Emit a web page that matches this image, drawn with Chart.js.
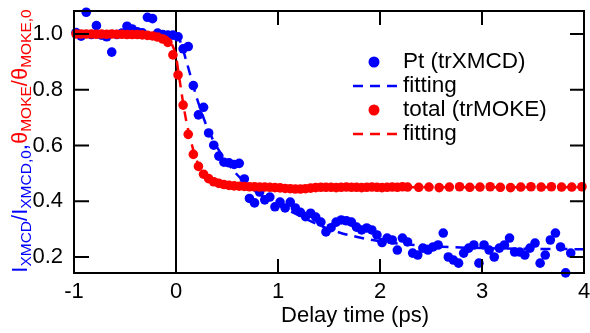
<!DOCTYPE html>
<html><head><meta charset="utf-8">
<script src="https://cdn.jsdelivr.net/npm/chart.js@4"></script>
<style>html,body{margin:0;padding:0;background:#fff;}#wrap{width:590px;height:333px;}</style>
</head><body><div id="wrap"><canvas id="c" width="590" height="333"></canvas></div>
<script>
const xTicks = [-1, 0, 1, 2, 3, 4];
const xTickLabels = ['-1', '0', '1', '2', '3', '4'];
const yTicks = [0.2, 0.4, 0.6, 0.8, 1.0];
const yTickLabels = ['0.2', '0.4', '0.6', '0.8', '1.0'];
const xTitle = 'Delay time (ps)';

// Pt (trXMCD) points
const ptTime = [-0.98,-0.93,-0.88,-0.83,-0.78,-0.73,-0.68,-0.63,-0.58,-0.53,-0.48,-0.43,-0.38,-0.33,-0.28,-0.23,-0.18,-0.13,-0.08,-0.03,
  0.02,0.07,0.12,0.17,0.22,0.27,0.32,0.37,0.42,0.47,0.52,0.57,0.62,0.67,0.72,0.77,0.82,0.87,0.92,0.97,
  1.02,1.07,1.12,1.17,1.22,1.27,1.32,1.37,1.42,1.47,1.52,1.57,1.62,1.67,1.72,1.77,1.82,1.87,1.92,1.97,
  2.02,2.07,2.12,2.17,2.22,2.27,2.32,2.37,2.42,2.47,2.52,2.57,2.62,2.67,2.72,2.77,2.82,2.87,2.92,2.97,
  3.02,3.07,3.12,3.17,3.22,3.27,3.32,3.37,3.42,3.47,3.52,3.57,3.62,3.67,3.72,3.77,3.82,3.87];
const ptValue = [1.005,0.992,1.078,0.998,1.03,0.996,0.99,0.935,0.998,1.003,1.028,1.018,1.008,1.004,1.06,1.055,1.003,0.998,0.996,0.996,
  0.99,0.947,0.955,0.815,0.71,0.737,0.645,0.601,0.562,0.54,0.538,0.532,0.536,0.48,0.41,0.394,0.433,0.405,0.415,0.38,
  0.397,0.376,0.397,0.376,0.36,0.345,0.357,0.343,0.325,0.29,0.305,0.325,0.333,0.33,0.325,0.307,0.297,0.304,0.297,0.279,
  0.252,0.268,0.261,0.225,0.268,0.254,0.214,0.207,0.232,0.225,0.236,0.243,0.286,0.2,0.189,0.178,0.214,0.232,0.243,0.178,
  0.243,0.225,0.2,0.232,0.243,0.268,0.218,0.218,0.207,0.232,0.25,0.178,0.207,0.261,0.286,0.236,0.143,0.214];

// Pt fitting curve
const ptFitTime = [-1.0,-0.5,0.0,0.05,0.1,0.15,0.2,0.25,0.3,0.35,0.4,0.5,0.6,0.7,0.8,0.9,1.0,1.2,1.4,1.6,1.8,2.0,2.3,2.6,3.0,3.5,4.0];
const ptFitValue = [1.0,1.0,1.0,0.965,0.905,0.84,0.775,0.72,0.67,0.63,0.595,0.54,0.495,0.46,0.43,0.405,0.385,0.35,0.315,0.288,0.27,0.256,0.244,0.237,0.232,0.229,0.228];

// total (trMOKE) points
const totTime = [-0.98,-0.93,-0.88,-0.83,-0.78,-0.73,-0.68,-0.63,-0.58,-0.53,-0.48,-0.43,-0.38,-0.33,-0.28,-0.23,-0.18,-0.13,-0.08,-0.03,
  0.02,0.07,0.12,0.17,0.22,0.27,0.32,0.37,0.42,0.47,0.52,0.57,0.62,0.67,0.72,0.77,0.82,0.87,0.92,0.97,
  1.02,1.07,1.12,1.17,1.22,1.27,1.32,1.37,1.42,1.47,1.52,1.57,1.62,1.67,1.72,1.77,1.82,1.87,1.92,1.97,
  2.02,2.07,2.12,2.17,2.22,2.27,
  2.38,2.48,2.58,2.68,2.78,2.88,2.98,3.08,3.18,3.28,3.38,3.48,3.58,3.68,3.78,3.88,3.98];
const totValue = [1.0,1.0,1.0,1.0,0.999,1.0,0.999,1.0,0.999,0.999,0.998,0.998,0.998,0.997,0.995,0.993,0.989,0.982,0.97,0.925,
  0.853,0.745,0.64,0.568,0.525,0.497,0.481,0.47,0.464,0.46,0.457,0.455,0.454,0.453,0.452,0.452,0.451,0.451,0.45,0.449,
  0.448,0.446,0.445,0.444,0.444,0.445,0.447,0.449,0.45,0.45,0.45,0.449,0.45,0.451,0.45,0.45,0.449,0.45,0.451,0.45,
  0.449,0.45,0.451,0.45,0.452,0.451,
  0.45,0.451,0.449,0.451,0.452,0.45,0.451,0.452,0.45,0.449,0.451,0.452,0.451,0.452,0.451,0.451,0.452];

// total fitting curve
const totFitTime = [-1.0,-0.5,-0.1,-0.05,0.0,0.025,0.05,0.075,0.1,0.15,0.2,0.25,0.3,0.4,0.5,0.7,1.0,2.0,3.0,4.0];
const totFitValue = [1.0,1.0,0.99,0.97,0.92,0.86,0.8,0.74,0.69,0.61,0.55,0.51,0.487,0.466,0.458,0.452,0.45,0.45,0.45,0.45];

const BLUE = '#0000ff', RED = '#ff0000', FONT = '"Liberation Sans", Arial, sans-serif';
const toPts = (xs, ys) => xs.map((t, i) => ({x: t, y: ys[i]}));

const decorPlugin = {
  id: 'decor',
  beforeDatasetsDraw(chart) {
    const {ctx, chartArea: a, scales: {x}} = chart;
    const x0 = x.getPixelForValue(0);
    ctx.save(); ctx.strokeStyle = '#000'; ctx.lineWidth = 2;
    ctx.beginPath(); ctx.moveTo(x0, a.top); ctx.lineTo(x0, a.bottom); ctx.stroke();
    ctx.restore();
  },
  afterDatasetsDraw(chart) {
    const {ctx, chartArea: a, scales: {x, y}} = chart;
    ctx.save();
    ctx.strokeStyle = '#000'; ctx.lineWidth = 2;
    ctx.strokeRect(a.left, a.top, a.right - a.left, a.bottom - a.top);
    const TL = 14;
    ctx.beginPath();
    xTicks.forEach(v => { const p = x.getPixelForValue(v);
      ctx.moveTo(p, a.bottom); ctx.lineTo(p, a.bottom - TL);
      ctx.moveTo(p, a.top); ctx.lineTo(p, a.top + TL); });
    yTicks.forEach(v => { const p = y.getPixelForValue(v);
      ctx.moveTo(a.left, p); ctx.lineTo(a.left + TL + 1, p);
      ctx.moveTo(a.right, p); ctx.lineTo(a.right - TL, p); });
    ctx.stroke();

    // x title
    ctx.fillStyle = '#000'; ctx.font = '22px ' + FONT;
    ctx.textAlign = 'center'; ctx.textBaseline = 'middle';
    ctx.fillText(xTitle, 355, 316);

    // legend
    const ds = chart.data.datasets;
    const rows = [62, 86, 110, 134];
    ctx.textAlign = 'left'; ctx.font = '22.5px ' + FONT;
    ds.forEach((d, i) => {
      const yy = rows[i];
      if (d.showLine) {
        ctx.save(); ctx.strokeStyle = d.borderColor; ctx.lineWidth = d.borderWidth;
        ctx.setLineDash(d.borderDash);
        ctx.beginPath(); ctx.moveTo(353, yy); ctx.lineTo(398, yy); ctx.stroke(); ctx.restore();
      } else {
        ctx.fillStyle = d.backgroundColor;
        ctx.beginPath(); ctx.arc(374, yy, 5.5, 0, Math.PI * 2); ctx.fill();
      }
      ctx.fillStyle = '#000';
      ctx.fillText(d.label, 403, yy);
    });

    // y title (rotated, with subscripts)
    const parts = [
      {t: 'I', c: BLUE}, {t: 'XMCD', c: BLUE, s: 1}, {t: '/I', c: BLUE}, {t: 'XMCD,0', c: BLUE, s: 1}, {t: ',', c: BLUE},
      {t: 'θ', c: RED}, {t: 'MOKE', c: RED, s: 1}, {t: '/θ', c: RED}, {t: 'MOKE,0', c: RED, s: 1}
    ];
    const mainF = '22px ' + FONT, subF = '15.5px ' + FONT;
    let total = 0;
    parts.forEach(p => { ctx.font = p.s ? subF : mainF; p.w = ctx.measureText(p.t).width; total += p.w; });
    ctx.translate(0, 141); ctx.rotate(-Math.PI / 2);
    ctx.textAlign = 'left'; ctx.textBaseline = 'alphabetic';
    let cx = -total / 2;
    parts.forEach(p => {
      ctx.font = p.s ? subF : mainF; ctx.fillStyle = p.c;
      ctx.fillText(p.t, cx, p.s ? 31 : 27);
      cx += p.w;
    });
    ctx.restore();
  }
};

new Chart(document.getElementById('c'), {
  type: 'scatter',
  data: {
    datasets: [
      {label: 'Pt (trXMCD)', data: toPts(ptTime, ptValue), backgroundColor: BLUE, borderWidth: 0, pointRadius: 4.8, showLine: false, order: 3, clip: false},
      {label: 'fitting', data: toPts(ptFitTime, ptFitValue), borderColor: BLUE, borderWidth: 2.5, borderDash: [10, 7], pointRadius: 0, showLine: true, cubicInterpolationMode: 'monotone', order: 2},
      {label: 'total (trMOKE)', data: toPts(totTime, totValue), backgroundColor: RED, borderWidth: 0, pointRadius: 4.8, showLine: false, order: 1, clip: false},
      {label: 'fitting', data: toPts(totFitTime, totFitValue), borderColor: RED, borderWidth: 2.5, borderDash: [10, 7], pointRadius: 0, showLine: true, cubicInterpolationMode: 'monotone', order: 0}
    ]
  },
  options: {
    responsive: false, animation: false, devicePixelRatio: 1, events: [],
    layout: {padding: {top: 11, right: 6, left: 0, bottom: 0}},
    plugins: {legend: {display: false}, tooltip: {enabled: false}},
    scales: {
      x: {
        type: 'linear', min: -1, max: 4,
        afterBuildTicks: s => { s.ticks = xTicks.map(v => ({value: v})); },
        afterFit: s => { s.height = 60; s.paddingLeft = 0; s.paddingRight = 0; },
        grid: {display: false}, border: {display: false},
        ticks: {font: {size: 22, family: FONT}, color: '#000', padding: -2, maxRotation: 0,
          callback: (v, i) => xTickLabels[i]}
      },
      y: {
        type: 'linear', min: 0.1426, max: 1.0825,
        afterBuildTicks: s => { s.ticks = yTicks.map(v => ({value: v})); },
        afterFit: s => { s.width = 74; s.paddingTop = 0; s.paddingBottom = 0; },
        grid: {display: false}, border: {display: false},
        ticks: {font: {size: 22, family: FONT}, color: '#000', padding: 3,
          callback: (v, i) => yTickLabels[i]}
      }
    }
  },
  plugins: [decorPlugin]
});
</script></body></html>
